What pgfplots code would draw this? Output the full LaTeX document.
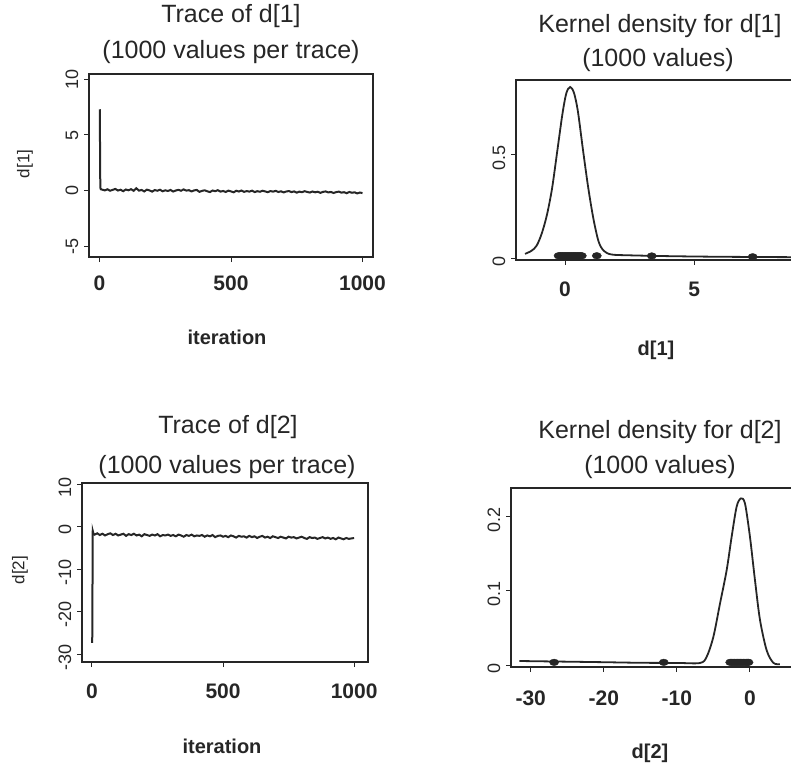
\documentclass[border=0pt]{standalone}
\usepackage{pgfplots}
\pgfplotsset{compat=1.18}
\usepackage{fontspec}
\setmainfont{Liberation Sans}
\definecolor{ink}{gray}{0.15}
\pgfplotsset{
  rplot/.style={
    scale only axis,
    anchor=south west,
    axis line style={ink, line width=1.4pt},
    tick align=outside,
    major tick length=5pt,
    every tick/.style={ink, line width=1pt},
    xtick pos=left, ytick pos=left,
    xticklabel style={ink, font=\fontsize{21}{21}\selectfont\bfseries, anchor=center, yshift=-20pt},
    yticklabel style={ink, font=\fontsize{18}{18}\selectfont, xshift=-12pt, rotate=90, anchor=center},
  },
  trace/.style={ink, line width=2pt},
  dens/.style={ink, line width=1.8pt, smooth},
  rug/.style={ink, only marks, mark=*, mark size=3.3pt, mark options={xscale=1.4}},
}
\newcommand{\tfont}{\fontsize{25}{25}\selectfont}
\newcommand{\lfont}{\fontsize{20}{20}\selectfont\bfseries}
\begin{document}
\begin{tikzpicture}
\path[use as bounding box] (0pt,0pt) rectangle (791pt,772pt);

% ---------- top left: trace of d[1]
\begin{axis}[rplot, at={(89pt,515pt)}, width=284pt, height=183pt,
  xmin=-40, xmax=1040, ymin=-5.9, ymax=10.45,
  xtick={0,500,1000}, xticklabels={0,500,1000},
  xticklabel style={yshift=-1pt},
  ytick={-5,0,5,10}, yticklabels={-5,0,5,10}]
\addplot[trace] coordinates {
(1,7.3)(3,0.3)(5,0.15)
(10,0.12)(20,0.05)(30,0.15)(40,0.02)(50,0.10)(60,0.18)(70,0.04)(80,0.11)(90,-0.02)(100,0.13)
(110,0.06)(120,0.16)(130,0.01)(140,0.24)(150,0.03)(160,0.09)(170,-0.04)(180,0.12)(190,0.05)(200,-0.06)
(210,0.08)(220,0.02)(230,0.11)(240,-0.03)(250,0.06)(260,0.00)(270,0.09)(280,-0.05)(290,0.04)(300,0.10)
(310,0.02)(320,0.14)(330,0.03)(340,0.07)(350,-0.04)(360,0.05)(370,0.09)(380,-0.08)(390,0.01)(400,0.06)
(410,-0.03)(420,-0.10)(430,0.04)(440,-0.02)(450,0.07)(460,-0.06)(470,0.00)(480,-0.09)(490,0.03)(500,-0.04)
(510,-0.12)(520,0.02)(530,-0.05)(540,0.04)(550,-0.08)(560,-0.01)(570,-0.06)(580,0.03)(590,-0.10)(600,-0.02)
(610,-0.07)(620,0.02)(630,-0.04)(640,-0.11)(650,-0.01)(660,-0.06)(670,0.01)(680,-0.09)(690,-0.03)(700,-0.13)
(710,-0.05)(720,-0.01)(730,-0.10)(740,-0.04)(750,-0.15)(760,-0.06)(770,-0.11)(780,-0.02)(790,-0.09)(800,-0.14)
(810,-0.05)(820,-0.12)(830,-0.07)(840,-0.17)(850,-0.08)(860,-0.04)(870,-0.13)(880,-0.09)(890,-0.18)(900,-0.10)
(910,-0.06)(920,-0.15)(930,-0.11)(940,-0.20)(950,-0.09)(960,-0.16)(970,-0.12)(980,-0.22)(990,-0.14)(1000,-0.19)
};
\end{axis}

% ---------- top right: kernel density for d[1]
\begin{axis}[rplot, at={(516pt,512pt)}, width=287pt, height=180pt,
  xmin=-1.9, xmax=9.22, ymin=-0.0097, ymax=0.864,
  xtick={0,5}, xticklabels={0,5},
  xticklabel style={yshift=-4pt},
  yticklabel style={xshift=-3pt},
  ytick={0,0.5}, yticklabels={0,0.5}]
\addplot[dens] coordinates {
(-1.55,0.020)(-1.3,0.035)(-1.1,0.060)(-0.9,0.120)(-0.7,0.210)(-0.5,0.340)(-0.3,0.520)
(-0.1,0.700)(0.05,0.800)(0.2,0.830)(0.35,0.800)(0.5,0.710)(0.7,0.520)(0.9,0.340)
(1.1,0.190)(1.3,0.080)(1.5,0.035)(1.8,0.017)(2.5,0.013)(4.0,0.009)(6.0,0.006)(8.8,0.004)
};
\addplot[rug] coordinates {
(-0.25,0.011)(-0.20,0.011)(-0.15,0.011)(-0.10,0.011)(-0.05,0.011)(0.0,0.011)(0.05,0.011)
(0.10,0.011)(0.15,0.011)(0.20,0.011)(0.25,0.011)(0.30,0.011)(0.35,0.011)(0.40,0.011)
(0.45,0.011)(0.50,0.011)(0.55,0.011)(0.60,0.011)(0.65,0.011)
(1.23,0.011)(3.36,0.010)(7.27,0.006)
};
\end{axis}

% ---------- bottom left: trace of d[2]
\begin{axis}[rplot, at={(82pt,110pt)}, width=286pt, height=179pt,
  xmin=-38, xmax=1053, ymin=-31.8, ymax=10.35,
  xtick={0,500,1000}, xticklabels={0,500,1000},
  xticklabel style={yshift=-4pt},
  yticklabel style={xshift=-3pt},
  ytick={-30,-20,-10,0,10}, yticklabels={-30,-20,-10,0,10}]
\addplot[trace] coordinates {
(1,-27.3)(3,-0.9)(6,-1.6)
(10,-1.8)(20,-1.5)(30,-1.9)(40,-1.6)(50,-2.0)(60,-1.7)(70,-1.5)(80,-1.9)(90,-1.6)(100,-2.0)
(110,-1.8)(120,-1.6)(130,-2.1)(140,-1.7)(150,-1.9)(160,-1.6)(170,-2.0)(180,-1.8)(190,-2.2)(200,-1.7)
(210,-1.9)(220,-2.1)(230,-1.8)(240,-2.0)(250,-1.7)(260,-2.2)(270,-1.9)(280,-2.0)(290,-1.8)(300,-2.1)
(310,-1.9)(320,-2.2)(330,-1.8)(340,-2.0)(350,-2.3)(360,-1.9)(370,-2.1)(380,-1.8)(390,-2.2)(400,-2.0)
(410,-2.1)(420,-1.9)(430,-2.3)(440,-2.0)(450,-2.2)(460,-1.9)(470,-2.4)(480,-2.1)(490,-2.0)(500,-2.3)
(510,-2.1)(520,-2.4)(530,-2.0)(540,-2.2)(550,-2.5)(560,-2.1)(570,-2.3)(580,-2.2)(590,-2.5)(600,-2.1)
(610,-2.4)(620,-2.2)(630,-2.6)(640,-2.3)(650,-2.1)(660,-2.5)(670,-2.3)(680,-2.6)(690,-2.2)(700,-2.4)
(710,-2.6)(720,-2.3)(730,-2.5)(740,-2.7)(750,-2.3)(760,-2.5)(770,-2.4)(780,-2.7)(790,-2.5)(800,-2.3)
(810,-2.6)(820,-2.8)(830,-2.4)(840,-2.6)(850,-2.5)(860,-2.8)(870,-2.6)(880,-2.4)(890,-2.7)(900,-2.5)
(910,-2.8)(920,-2.6)(930,-2.9)(940,-2.5)(950,-2.7)(960,-2.9)(970,-2.6)(980,-2.8)(990,-2.7)(1000,-2.6)
};
\end{axis}

% ---------- bottom right: kernel density for d[2]
\begin{axis}[rplot, at={(511pt,105pt)}, width=285pt, height=179pt,
  xmin=-32.7, xmax=6.3, ymin=-0.0027, ymax=0.239,
  xtick={-30,-20,-10,0}, xticklabels={-30,-20,-10,0},
  xticklabel style={yshift=-6pt},
  yticklabel style={xshift=-3pt},
  ytick={0,0.1,0.2}, yticklabels={0,0.1,0.2}]
\addplot[dens] coordinates {
(-31.56,0.0054)(-25,0.0045)(-20,0.0038)(-15,0.0030)(-10,0.0028)(-6.84,0.0027)
(-5.93,0.011)(-5.01,0.038)(-4.10,0.083)(-3.19,0.128)(-2.51,0.173)(-1.82,0.214)
(-1.23,0.225)(-0.68,0.218)(0.0,0.173)(0.68,0.115)(1.37,0.061)(2.28,0.020)(3.19,0.003)(4.1,0.001)
};
\addplot[rug] coordinates {
(-26.8,0.0036)(-11.8,0.0036)
(-2.7,0.0036)(-2.5,0.0036)(-2.3,0.0036)(-2.1,0.0036)(-1.9,0.0036)(-1.7,0.0036)(-1.5,0.0036)
(-1.3,0.0036)(-1.1,0.0036)(-0.9,0.0036)(-0.7,0.0036)(-0.5,0.0036)(-0.3,0.0036)(-0.2,0.0036)
};
\end{axis}

% ---------- titles and axis labels
\node[ink, font=\tfont] at (231pt,756pt) {Trace of d[1]};
\node[ink, font=\tfont] at (231pt,720pt) {(1000 values per trace)};
\node[ink, font=\lfont] at (227pt,435pt) {iteration};
\node[ink, font=\fontsize{17}{17}\selectfont, rotate=90] at (25pt,608pt) {d[1]};

\node[ink, font=\tfont] at (660pt,746pt) {Kernel density for d[1]};
\node[ink, font=\tfont] at (658pt,712pt) {(1000 values)};
\node[ink, font=\lfont] at (656pt,422pt) {d[1]};

\node[ink, font=\tfont] at (228pt,345pt) {Trace of d[2]};
\node[ink, font=\tfont] at (227pt,305pt) {(1000 values per trace)};
\node[ink, font=\lfont] at (222pt,26pt) {iteration};
\node[ink, font=\fontsize{17}{17}\selectfont, rotate=90] at (20pt,202pt) {d[2]};

\node[ink, font=\tfont] at (660pt,340pt) {Kernel density for d[2]};
\node[ink, font=\tfont] at (660pt,305pt) {(1000 values)};
\node[ink, font=\lfont] at (650pt,19pt) {d[2]};
\end{tikzpicture}
\end{document}
